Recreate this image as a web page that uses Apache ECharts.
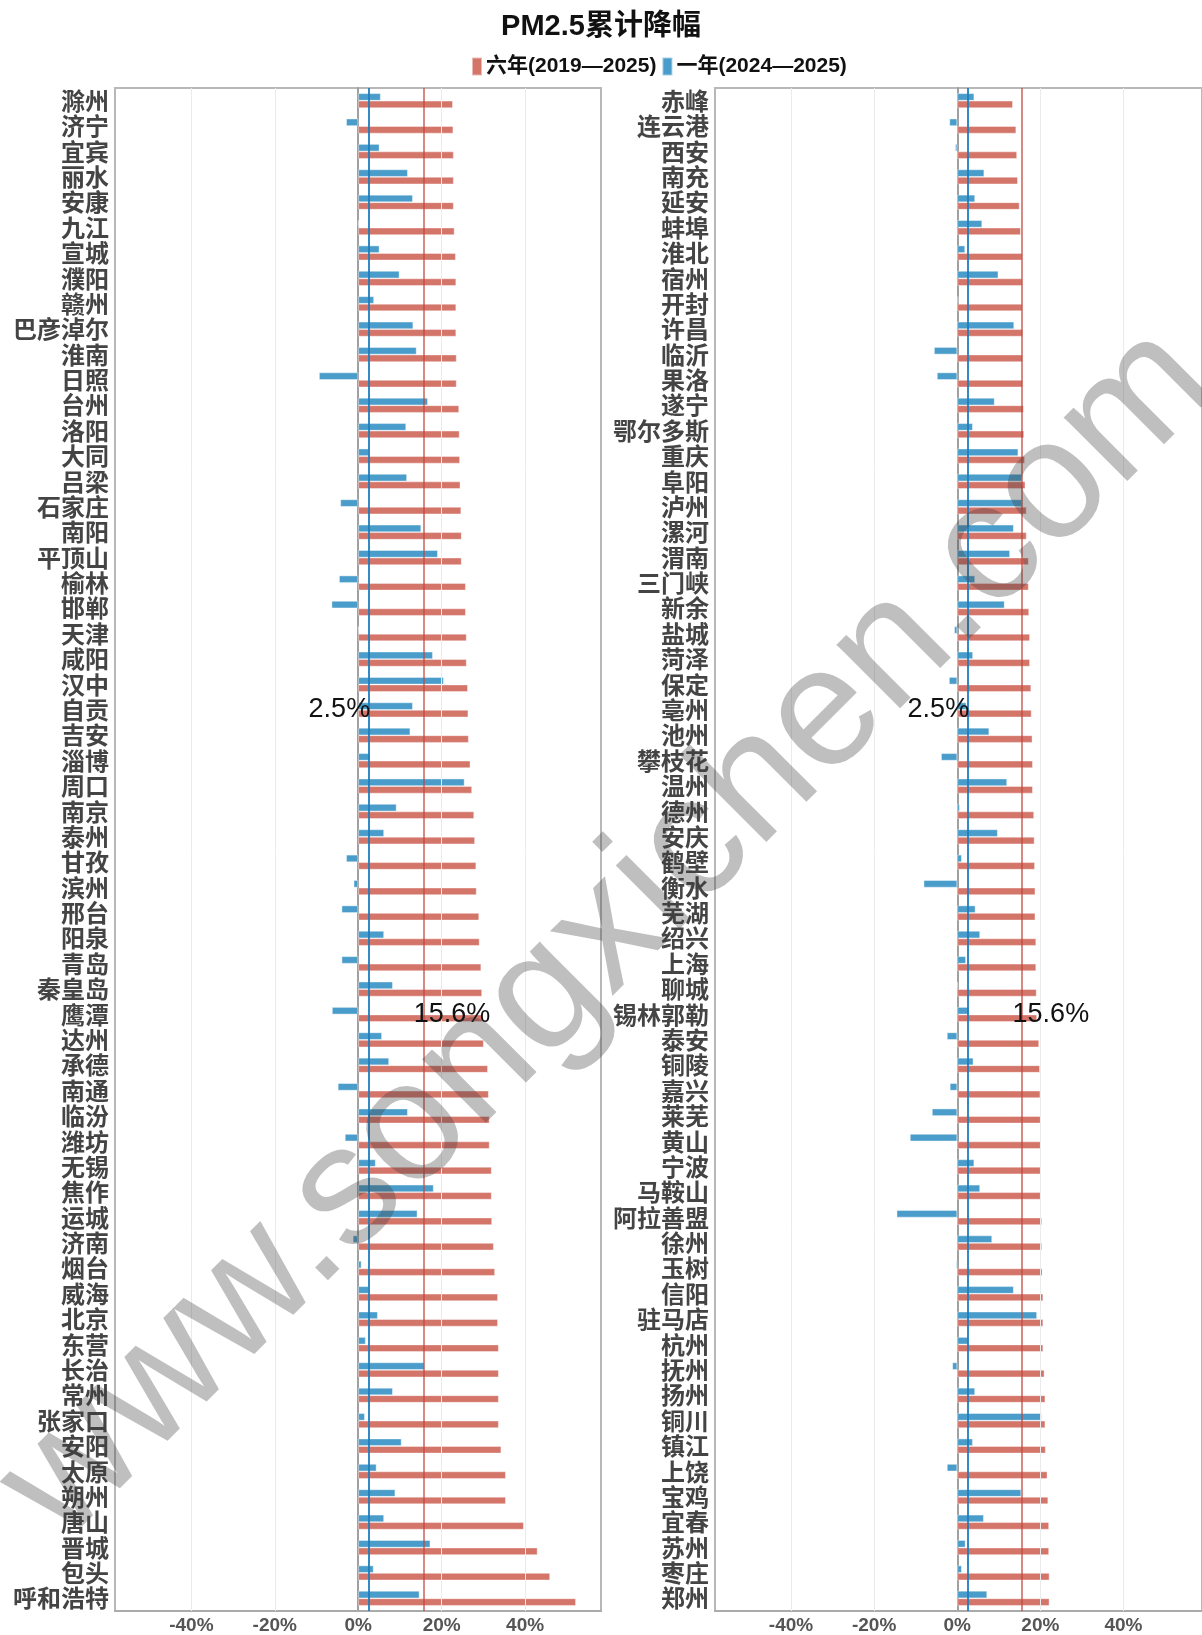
<!DOCTYPE html>
<html>
<head>
<meta charset="utf-8">
<script src="https://cdn.jsdelivr.net/npm/echarts@6/dist/echarts.min.js"></script>
<style>
html,body{margin:0;padding:0;background:#fff;}
#c{width:1202px;height:1635px;}
</style>
</head>
<body>
<div id="c"></div>
<script>
// ---------- data ----------
const leftCities = ['滁州','济宁','宜宾','丽水','安康','九江','宣城','濮阳','赣州','巴彦淖尔','淮南','日照','台州','洛阳','大同','吕梁','石家庄','南阳','平顶山','榆林','邯郸','天津','咸阳','汉中','自贡','吉安','淄博','周口','南京','泰州','甘孜','滨州','邢台','阳泉','青岛','秦皇岛','鹰潭','达州','承德','南通','临汾','潍坊','无锡','焦作','运城','济南','烟台','威海','北京','东营','长治','常州','张家口','安阳','太原','朔州','唐山','晋城','包头','呼和浩特'];
const leftSix = [22.7,22.8,22.9,22.9,22.9,23.1,23.4,23.5,23.5,23.5,23.6,23.6,24.2,24.3,24.4,24.5,24.7,24.8,24.8,25.8,25.8,26.0,26.0,26.3,26.4,26.5,26.9,27.3,27.8,28.0,28.3,28.4,29.0,29.1,29.5,29.7,29.8,30.1,31.1,31.3,31.5,31.5,32.0,32.0,32.1,32.5,32.8,33.5,33.5,33.7,33.7,33.7,33.7,34.3,35.4,35.4,39.7,43.0,46.0,52.2];
const leftOne = [5.4,-2.9,5.1,11.9,13.1,0.1,5.1,9.9,3.8,13.2,14.0,-9.4,16.7,11.5,2.6,11.7,-4.3,15.1,19.1,-4.6,-6.4,0.1,17.9,20.5,13.1,12.5,2.9,25.5,9.2,6.2,-2.9,-1.1,-4.0,6.2,-4.0,8.3,-6.3,5.7,7.4,-4.9,11.9,-3.2,4.2,18.1,14.2,-1.3,0.8,2.6,4.7,1.8,15.9,8.3,1.6,10.4,4.4,8.9,6.2,17.3,3.7,14.7];

const rightCities = ['赤峰','连云港','西安','南充','延安','蚌埠','淮北','宿州','开封','许昌','临沂','果洛','遂宁','鄂尔多斯','重庆','阜阳','泸州','漯河','渭南','三门峡','新余','盐城','菏泽','保定','亳州','池州','攀枝花','温州','德州','安庆','鹤壁','衡水','芜湖','绍兴','上海','聊城','锡林郭勒','泰安','铜陵','嘉兴','莱芜','黄山','宁波','马鞍山','阿拉善盟','徐州','玉树','信阳','驻马店','杭州','抚州','扬州','铜川','镇江','上饶','宝鸡','宜春','苏州','枣庄','郑州'];
const rightSix = [13.4,14.2,14.4,14.6,15.0,15.3,15.7,15.7,15.7,15.8,15.8,15.8,16.0,16.1,16.3,16.4,16.7,16.7,17.2,17.2,17.3,17.5,17.5,17.8,17.9,18.1,18.2,18.2,18.5,18.6,18.7,18.8,18.8,19.0,19.0,19.1,19.2,19.7,19.9,20.0,20.1,20.1,20.1,20.1,20.4,20.4,20.5,20.7,20.7,20.7,21.0,21.2,21.2,21.3,21.7,21.9,22.1,22.1,22.2,22.2];
const rightOne = [4.1,-1.9,-0.5,6.5,4.3,6.0,1.9,9.9,0.3,13.7,-5.6,-4.9,9.0,3.75,14.7,15.6,15.6,13.6,12.7,4.3,11.4,-0.75,3.8,-2.0,2.2,7.7,-3.9,12.0,0.6,9.75,1.1,-8.1,4.4,5.5,2.1,0.2,2.9,-2.5,3.9,-1.8,-6.1,-11.4,4.1,5.5,-14.6,8.4,-0.3,13.6,19.2,2.7,-1.2,4.3,20.3,3.75,-2.5,15.4,6.4,2.0,1.1,7.2];

const xTickValues = [-40, -20, 0, 20, 40];
const xGridValues = [-40, -20, 20, 40];
const avgOne = 2.5;
const avgSix = 15.6;
const seriesNames = ['六年(2019—2025)', '一年(2024—2025)'];
const titleText = 'PM2.5累计降幅';
const watermarkText = 'www.songxichen.com';
const leftLabelCities = ['自贡', '鹰潭'];
const rightLabelCities = ['亳州', '锡林郭勒'];

// ---------- styles ----------
const RED = '#d4756a';
const BLUE = '#4a9dca';
const LINE_RED = 'rgba(192,70,60,0.85)';
const LINE_BLUE = 'rgba(30,125,190,0.9)';
const LATIN = "'Liberation Sans', 'Noto Sans CJK SC', sans-serif";
const CJK = "'Noto Sans CJK SC', 'Liberation Sans', sans-serif";

const panels = [
  {cities: leftCities, six: leftSix, one: leftOne, labels: leftLabelCities, left: 115, width: 486, max: 58.2},
  {cities: rightCities, six: rightSix, one: rightOne, labels: rightLabelCities, left: 715, width: 489, max: 58.9}
];

const grids = [], xAxes = [], yAxes = [], series = [];
panels.forEach((p, i) => {
  grids.push({left: p.left, width: p.width, top: 88, bottom: 24, show: true,
    borderColor: '#b8b8b8', borderWidth: 2, backgroundColor: '#fff', containLabel: false});
  xAxes.push({
    type: 'value', gridIndex: i, min: -58.3, max: p.max,
    axisLine: {show: true, onZero: false, lineStyle: {color: '#aaaaaa', width: 2}},
    axisTick: {show: false, customValues: xTickValues},
    splitLine: {show: false},
    axisLabel: {customValues: xTickValues, formatter: v => v + '%', color: '#555',
      fontSize: 19, fontWeight: 'bold', fontFamily: LATIN, margin: 5}
  });
  yAxes.push({
    type: 'category', gridIndex: i, data: p.cities, inverse: true,
    axisLine: {show: true, lineStyle: {color: '#a0a0a0', width: 2}},
    axisTick: {show: false},
    axisLabel: {interval: 0, color: '#444', fontSize: 24, fontWeight: 'bold', fontFamily: CJK, margin: 6},
    splitLine: {show: false}
  });
  // background gridlines
  series.push({
    type: 'line', xAxisIndex: i, yAxisIndex: i, data: [], z: 1, silent: true,
    markLine: {silent: true, symbol: 'none', label: {show: false}, animation: false,
      lineStyle: {color: '#ebebeb', width: 1, type: 'solid'},
      data: xGridValues.map(v => ({xAxis: v}))}
  });
  series.push({
    name: seriesNames[1], type: 'bar', xAxisIndex: i, yAxisIndex: i, data: p.one,
    barWidth: 7.5, barGap: '0%', z: 2,
    itemStyle: {color: BLUE, borderColor: 'rgba(255,255,255,0.5)', borderWidth: 0.8}
  });
  series.push({
    name: seriesNames[0], type: 'bar', xAxisIndex: i, yAxisIndex: i, data: p.six,
    barWidth: 7.5, barGap: '0%', z: 2,
    itemStyle: {color: RED, borderColor: 'rgba(255,255,255,0.5)', borderWidth: 0.8}
  });
  // reference lines + labels
  series.push({
    type: 'line', xAxisIndex: i, yAxisIndex: i, data: [], z: 10, silent: true,
    markLine: {silent: true, symbol: 'none', label: {show: false}, animation: false,
      data: [
        {xAxis: avgOne, lineStyle: {color: LINE_BLUE, width: 2, type: 'solid'}},
        {xAxis: avgSix, lineStyle: {color: LINE_RED, width: 1.5, type: 'solid'}}
      ]},
    markPoint: {silent: true, animation: false, symbol: 'circle', symbolSize: 1,
      itemStyle: {color: 'rgba(0,0,0,0)'},
      data: [
        {coord: [avgOne, p.cities.indexOf(p.labels[0])],
          label: {show: true, formatter: avgOne + '%', position: 'left', distance: -2,
            color: '#111', fontSize: 27, fontFamily: LATIN}},
        {coord: [avgSix, p.cities.indexOf(p.labels[1])],
          label: {show: true, formatter: avgSix + '%', position: 'right', distance: -10,
            color: '#111', fontSize: 27, fontFamily: LATIN}}
      ]}
  });
});

const chart = echarts.init(document.getElementById('c'), null, {renderer: 'canvas'});
chart.setOption({
  animation: false,
  backgroundColor: '#fff',
  title: {text: titleText, left: 'center', top: 7,
    textStyle: {fontSize: 29, fontWeight: 'bold', color: '#111', fontFamily: LATIN}},
  legend: {data: seriesNames, left: 466, top: 51, icon: 'rect', itemWidth: 10, itemHeight: 18,
    itemGap: 5, textStyle: {fontSize: 21, fontWeight: 'bold', color: '#111', fontFamily: LATIN, padding: [0,0,0,-1]}},
  grid: grids, xAxis: xAxes, yAxis: yAxes, series: series,
  graphic: [{
    type: 'text', x: 608, y: 934, rotation: Math.PI / 4, z: 100, silent: true,
    style: {text: watermarkText, fontSize: 170, fontFamily: LATIN, fill: 'rgba(60,60,60,0.33)',
      textAlign: 'center', textVerticalAlign: 'middle'}
  }]
});
</script>
</body>
</html>
